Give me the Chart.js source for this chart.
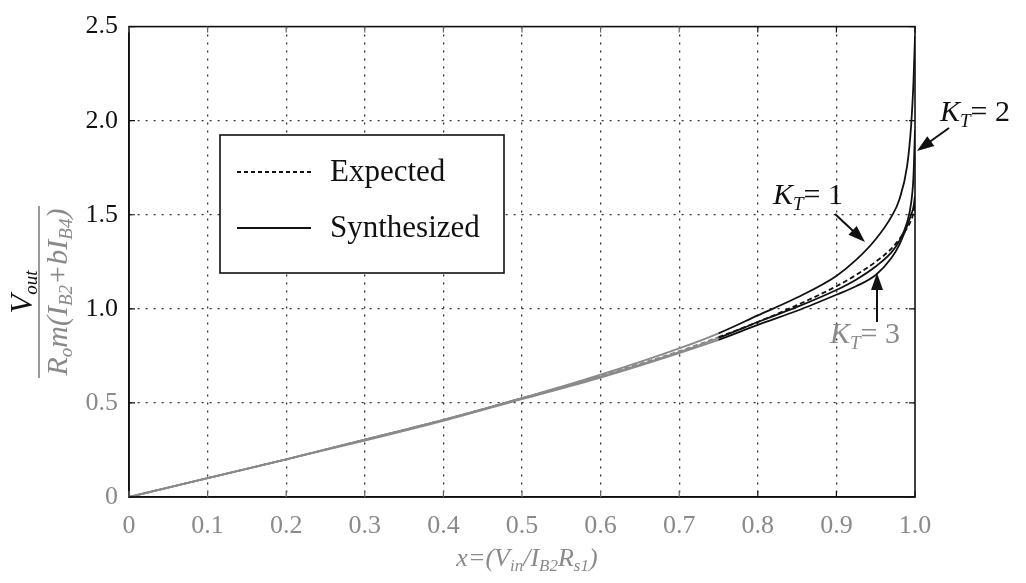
<!DOCTYPE html>
<html>
<head>
<meta charset="utf-8">
<script src="https://cdn.jsdelivr.net/npm/chart.js@4.4.0/dist/chart.umd.min.js"></script>
<style>
  body { margin: 0; background: #fff; }
  canvas { display: block; }
</style>
</head>
<body>
<canvas id="chart" width="1026" height="583"></canvas>
<script>
// values
const xValues = [0, 0.1, 0.2, 0.3, 0.4, 0.5, 0.6, 0.7, 0.75, 0.8, 0.85, 0.9, 0.925, 0.95, 0.97, 0.98, 0.99, 0.995, 0.998, 1.0];
const expected = [0, 0.10, 0.20, 0.305, 0.41, 0.525, 0.645, 0.775, 0.85, 0.93, 1.02, 1.12, 1.18, 1.25, 1.32, 1.37, 1.43, 1.47, 1.51, 1.57];
const synthKT1 = [0, 0.10, 0.20, 0.305, 0.41, 0.525, 0.65, 0.79, 0.87, 0.965, 1.06, 1.175, 1.26, 1.37, 1.49, 1.58, 1.76, 1.97, 2.2, 2.45];
const synthKT2 = [0, 0.10, 0.20, 0.305, 0.41, 0.525, 0.64, 0.77, 0.845, 0.93, 1.01, 1.10, 1.155, 1.225, 1.30, 1.36, 1.46, 1.56, 1.7, 1.95];
const synthKT3 = [0, 0.10, 0.20, 0.30, 0.405, 0.52, 0.635, 0.765, 0.835, 0.915, 0.99, 1.075, 1.12, 1.18, 1.27, 1.34, 1.44, 1.5, 1.54, 1.6];

const xTickLabels = ['0', '0.1', '0.2', '0.3', '0.4', '0.5', '0.6', '0.7', '0.8', '0.9', '1.0'];
const yTickLabels = ['0', '0.5', '1.0', '1.5', '2.0', '2.5'];

const SERIF = '"Liberation Serif", "DejaVu Serif", serif';
const GRAY = '#8a8a8a';

function toPoints(ys) {
  return xValues.map((x, i) => ({ x: x, y: ys[i] }));
}

// lower-left part of the scan is washed out by the watermark
const segColor = ctx => (ctx.p1.parsed.x <= 0.76 ? GRAY : '#111');

function lineSet(label, ys, dash) {
  return {
    label: label,
    data: toPoints(ys),
    borderColor: '#111',
    borderWidth: 1.8,
    borderDash: dash,
    pointRadius: 0,
    fill: false,
    cubicInterpolationMode: 'monotone',
    segment: { borderColor: segColor }
  };
}

// draws runs of text with subscripts, returns width
function richText(ctx, parts, x, y, align) {
  let w = 0;
  parts.forEach(p => {
    ctx.font = (p.italic ? 'italic ' : '') + p.size + 'px ' + SERIF;
    w += ctx.measureText(p.t).width;
  });
  let cx = align === 'center' ? x - w / 2 : x;
  ctx.textAlign = 'left';
  ctx.textBaseline = 'alphabetic';
  parts.forEach(p => {
    ctx.font = (p.italic ? 'italic ' : '') + p.size + 'px ' + SERIF;
    ctx.fillText(p.t, cx, y + (p.dy || 0));
    cx += ctx.measureText(p.t).width;
  });
  return w;
}

function arrow(ctx, x1, y1, x2, y2, color) {
  const ang = Math.atan2(y2 - y1, x2 - x1);
  const len = 17, half = 6;
  ctx.save();
  ctx.strokeStyle = color;
  ctx.fillStyle = color;
  ctx.lineWidth = 2;
  ctx.beginPath();
  ctx.moveTo(x1, y1);
  ctx.lineTo(x2 - Math.cos(ang) * len * 0.8, y2 - Math.sin(ang) * len * 0.8);
  ctx.stroke();
  ctx.beginPath();
  ctx.moveTo(x2, y2);
  ctx.lineTo(x2 - Math.cos(ang) * len - Math.sin(ang) * half, y2 - Math.sin(ang) * len + Math.cos(ang) * half);
  ctx.lineTo(x2 - Math.cos(ang) * len + Math.sin(ang) * half, y2 - Math.sin(ang) * len - Math.cos(ang) * half);
  ctx.closePath();
  ctx.fill();
  ctx.restore();
}

const extras = {
  id: 'extras',
  afterDraw(chart) {
    const ctx = chart.ctx;
    const a = chart.chartArea;
    const xs = chart.scales.x, ys = chart.scales.y;
    ctx.save();

    // frame
    ctx.strokeStyle = '#111';
    ctx.lineWidth = 1.6;
    ctx.setLineDash([]);
    ctx.strokeRect(a.left, a.top, a.right - a.left, a.bottom - a.top);

    // inward tick marks
    ctx.lineWidth = 1.2;
    xs.ticks.forEach(t => {
      const px = xs.getPixelForValue(t.value);
      ctx.strokeStyle = t.value < 0.75 ? '#666' : '#111';
      ctx.beginPath();
      ctx.moveTo(px, a.bottom); ctx.lineTo(px, a.bottom - 6);
      ctx.moveTo(px, a.top); ctx.lineTo(px, a.top + 6);
      ctx.stroke();
    });
    ys.ticks.forEach(t => {
      const py = ys.getPixelForValue(t.value);
      ctx.strokeStyle = '#111';
      ctx.beginPath();
      ctx.moveTo(a.left, py); ctx.lineTo(a.left + 6, py);
      ctx.moveTo(a.right, py); ctx.lineTo(a.right - 6, py);
      ctx.stroke();
    });

    // legend box
    ctx.fillStyle = '#fff';
    ctx.fillRect(220, 135, 284, 138);
    ctx.strokeStyle = '#111';
    ctx.lineWidth = 1.6;
    ctx.strokeRect(220, 135, 284, 138);
    ctx.lineWidth = 1.8;
    ctx.setLineDash([4, 3]);
    ctx.beginPath(); ctx.moveTo(237, 172); ctx.lineTo(311, 172); ctx.stroke();
    ctx.setLineDash([]);
    ctx.beginPath(); ctx.moveTo(237, 228); ctx.lineTo(311, 228); ctx.stroke();
    ctx.fillStyle = '#111';
    richText(ctx, [{ t: 'Expected', size: 31 }], 330, 181, 'left');
    richText(ctx, [{ t: 'Synthesized', size: 31 }], 330, 237, 'left');

    // K_T annotations
    const kt = n => [
      { t: 'K', size: 30, italic: true },
      { t: 'T', size: 19, italic: true, dy: 6 },
      { t: '= ' + n, size: 30 }
    ];
    ctx.fillStyle = '#111';
    richText(ctx, kt(1), 773, 204, 'left');
    arrow(ctx, 835, 214, 865, 242, '#111');
    richText(ctx, kt(2), 940, 121, 'left');
    arrow(ctx, 949, 128, 917, 151, '#111');
    ctx.fillStyle = GRAY;
    richText(ctx, kt(3), 830, 343, 'left');
    arrow(ctx, 877, 322, 877, 273, '#111');

    // x axis title
    ctx.fillStyle = GRAY;
    richText(ctx, [
      { t: 'x=(V', size: 26, italic: true },
      { t: 'in', size: 17, italic: true, dy: 5 },
      { t: '/I', size: 26, italic: true },
      { t: 'B2', size: 17, italic: true, dy: 5 },
      { t: 'R', size: 26, italic: true },
      { t: 's1', size: 17, italic: true, dy: 5 },
      { t: ')', size: 26, italic: true }
    ], 527, 566, 'center');

    // y axis title as a fraction, rotated
    ctx.translate(39, 292);
    ctx.rotate(-Math.PI / 2);
    ctx.fillStyle = '#111';
    richText(ctx, [
      { t: 'V', size: 31, italic: true },
      { t: 'out', size: 19, italic: true, dy: 5 }
    ], 0, -7, 'center');
    ctx.strokeStyle = '#777';
    ctx.lineWidth = 1.5;
    ctx.beginPath(); ctx.moveTo(-86, 0); ctx.lineTo(86, 0); ctx.stroke();
    ctx.fillStyle = GRAY;
    richText(ctx, [
      { t: 'R', size: 30, italic: true },
      { t: 'o', size: 19, italic: true, dy: 5 },
      { t: 'm(I', size: 30, italic: true },
      { t: 'B2', size: 19, italic: true, dy: 5 },
      { t: '+bI', size: 30, italic: true },
      { t: 'B4', size: 19, italic: true, dy: 5 },
      { t: ')', size: 30, italic: true }
    ], 0, 28, 'center');
    ctx.restore();
  }
};

new Chart(document.getElementById('chart').getContext('2d'), {
  type: 'line',
  data: {
    datasets: [
      lineSet('Expected', expected, [5, 3]),
      lineSet('K_T = 1', synthKT1, []),
      lineSet('K_T = 2', synthKT2, []),
      lineSet('K_T = 3', synthKT3, [])
    ]
  },
  options: {
    responsive: false,
    animation: false,
    devicePixelRatio: 1,
    layout: { padding: { left: 0, top: 21, right: 111, bottom: 0 } },
    plugins: {
      legend: { display: false },
      tooltip: { enabled: false }
    },
    scales: {
      x: {
        type: 'linear',
        min: 0,
        max: 1,
        afterFit: s => { s.height = 86; },
        ticks: {
          stepSize: 0.1,
          padding: 14,
          color: GRAY,
          font: { family: SERIF, size: 26 },
          callback: (v, i) => xTickLabels[i]
        },
        grid: {
          drawTicks: false,
          lineWidth: 1.3,
          color: c => (c.tick && (c.tick.value === 0 || c.tick.value === 1) ? 'rgba(0,0,0,0)' : '#333')
        },
        border: { display: true, color: '#111', width: 1.6, dash: [2, 6] }
      },
      y: {
        min: 0,
        max: 2.5,
        afterFit: s => { s.width = 129; },
        ticks: {
          stepSize: 0.5,
          padding: 11,
          color: c => (c.tick.value <= 0.5 ? GRAY : '#111'),
          font: { family: SERIF, size: 26 },
          callback: (v, i) => yTickLabels[i]
        },
        grid: {
          drawTicks: false,
          lineWidth: 1.3,
          color: c => (c.tick && (c.tick.value === 0 || c.tick.value === 2.5) ? 'rgba(0,0,0,0)' : '#333')
        },
        border: { display: true, color: '#111', width: 1.6, dash: [2, 6] }
      }
    }
  },
  plugins: [extras]
});
</script>
</body>
</html>
